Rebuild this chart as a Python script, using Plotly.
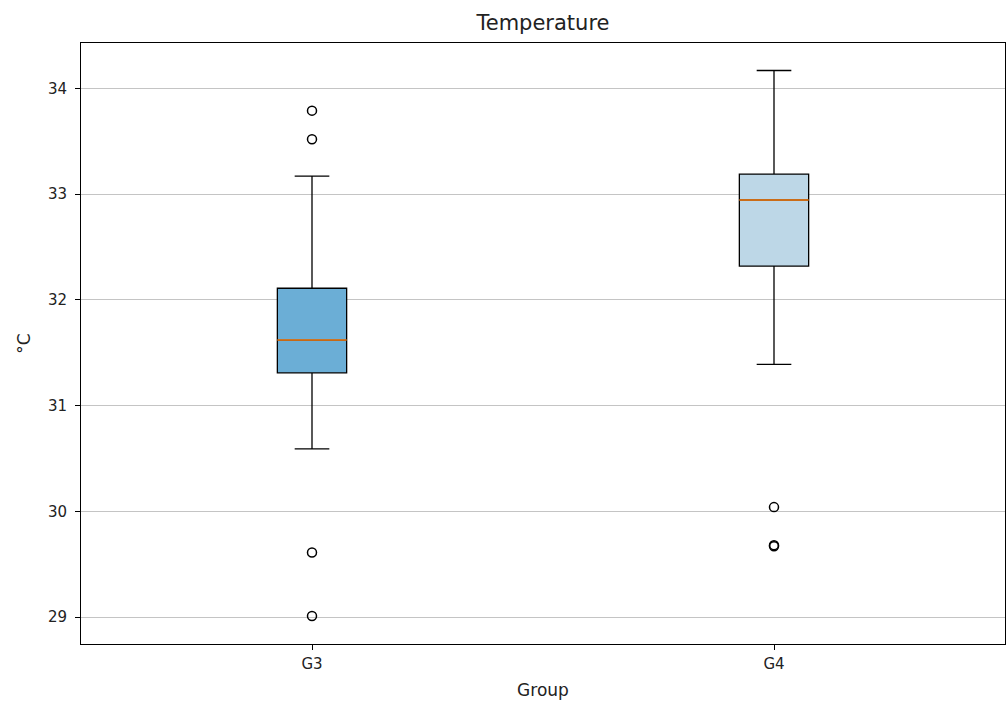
import plotly.graph_objects as go

groups = ["G3", "G4"]
positions = [1, 2]
q1 = [31.31, 32.32]
median = [31.62, 32.945]
q3 = [32.11, 33.19]
lower_whisker = [30.59, 31.39]
upper_whisker = [33.17, 34.17]
outliers = [[33.79, 33.52, 29.61, 29.01], [30.04, 29.68, 29.67]]
fills = ["#6baed6", "#bdd7e7"]

box_width = 0.15

fig = go.Figure()
for i, g in enumerate(groups):
    fig.add_trace(go.Box(
        x=[positions[i]], q1=[q1[i]], median=[median[i]], q3=[q3[i]],
        lowerfence=[lower_whisker[i]], upperfence=[upper_whisker[i]],
        width=box_width, whiskerwidth=0.5, boxpoints=False,
        fillcolor=fills[i], line=dict(color="black", width=1.3),
        name=g, showlegend=False,
    ))
    fig.add_trace(go.Scatter(
        x=[positions[i] - box_width / 2, positions[i] + box_width / 2],
        y=[median[i], median[i]], mode="lines",
        line=dict(color="#ff7f0e", width=1.5), showlegend=False, hoverinfo="skip",
    ))
    fig.add_trace(go.Scatter(
        x=[positions[i]] * len(outliers[i]), y=outliers[i], mode="markers",
        marker=dict(symbol="circle-open", size=9, color="black", line=dict(width=1.5)),
        showlegend=False,
    ))

axis_common = dict(showline=True, linecolor="black", linewidth=1, mirror=True,
                   ticks="outside", ticklen=5, tickcolor="black", zeroline=False,
                   tickfont=dict(family="DejaVu Sans", size=15, color="#222222"))

fig.update_layout(
    width=1006, height=702,
    margin=dict(l=81, r=1, t=43, b=58),
    paper_bgcolor="white", plot_bgcolor="white",
    font=dict(family="DejaVu Sans", size=15, color="#222222"),
    title=dict(text="Temperature", x=0.5, xref="paper", y=1 - 23 / 702, yanchor="middle",
               font=dict(family="DejaVu Sans", size=21, color="#222222")),
    xaxis=dict(range=[0.5, 2.5], tickvals=positions, ticktext=groups, showgrid=False,
               ticklabelstandoff=1,
               title=dict(text="Group", font=dict(size=17), standoff=12), **axis_common),
    yaxis=dict(range=[28.745, 34.43], tickvals=[29, 30, 31, 32, 33, 34], showgrid=True,
               gridcolor="#c4c4c4", gridwidth=1, ticklabelstandoff=5,
               title=dict(text="°C", font=dict(size=17), standoff=12), **axis_common),
)

fig.write_html("out.html")
